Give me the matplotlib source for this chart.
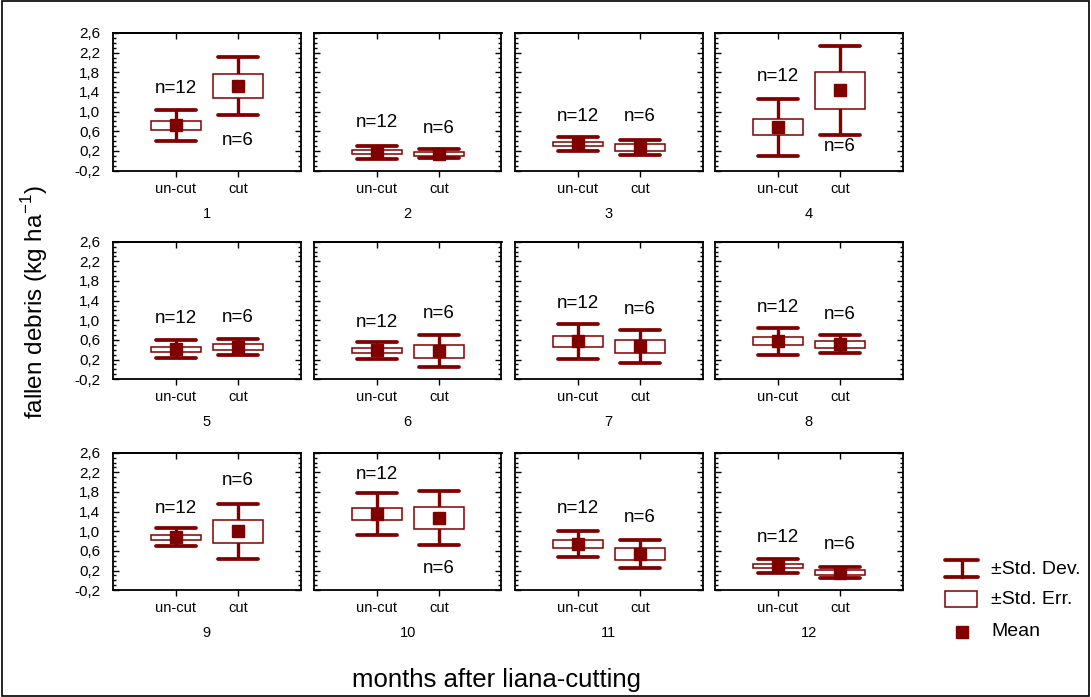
import numpy as np
import matplotlib
matplotlib.use("Agg")
import matplotlib.pyplot as plt
import matplotlib.ticker as ticker
from matplotlib.patches import Rectangle
from matplotlib.lines import Line2D

plt.rcParams['font.family'] = ['Liberation Sans', 'DejaVu Sans']

# ---------------- data ----------------
months = ['1', '2', '3', '4', '5', '6', '7', '8', '9', '10', '11', '12']
groups = ['un-cut', 'cut']
n_obs = [12, 6]

mean_uncut = [0.72, 0.17, 0.34, 0.68, 0.41, 0.39, 0.57, 0.57, 0.88, 1.35, 0.74, 0.30]
sd_uncut = [0.32, 0.13, 0.14, 0.575, 0.18, 0.17, 0.36, 0.27, 0.18, 0.42, 0.26, 0.145]
se_uncut = [0.09, 0.04, 0.04, 0.165, 0.05, 0.05, 0.105, 0.08, 0.05, 0.12, 0.075, 0.04]

mean_cut = [1.52, 0.14, 0.27, 1.43, 0.45, 0.37, 0.47, 0.51, 1.00, 1.27, 0.54, 0.16]
sd_cut = [0.59, 0.09, 0.155, 0.91, 0.16, 0.33, 0.335, 0.18, 0.56, 0.545, 0.29, 0.12]
se_cut = [0.24, 0.04, 0.065, 0.37, 0.065, 0.135, 0.135, 0.07, 0.23, 0.22, 0.12, 0.05]

# height (in data units) of the "n=" labels
lab_uncut = [1.47, 0.77, 0.89, 1.71, 1.03, 0.96, 1.34, 1.27, 1.46, 2.16, 1.46, 0.88]
lab_cut = [0.41, 0.66, 0.89, 0.29, 1.05, 1.14, 1.22, 1.12, 2.04, 0.24, 1.29, 0.73]

# ---------------- layout ----------------
W, H = 1091, 697
col = '#800000'
fig = plt.figure(figsize=(W / 100, H / 100), dpi=100)

lefts = [113, 314, 515, 715]
tops = [33, 241.7, 452.7]
aw, ah = 187.5, 137.5

def comma(v, pos):
    return ('%.1f' % v).replace('.', ',')

def draw_group(ax, x, m, sd, se):
    #Desviacion estandar
    ax.plot([x, x], [m - sd, m + sd], color=col, lw=2.4, solid_capstyle='butt', zorder=2)
    for yy in (m - sd, m + sd):
        ax.plot([x - 0.32, x + 0.32], [yy, yy], color=col, lw=2.7,
                solid_capstyle='round', zorder=2)
    #Error estandar
    ax.add_patch(Rectangle((x - 0.4, m - se), 0.8, 2 * se, facecolor='white',
                           edgecolor=col, lw=1.1, zorder=3))
    #Media
    ax.plot([x], [m], marker='s', ms=9, color=col, mec=col, zorder=4)

for i in range(12):
    r, c = divmod(i, 4)
    ax = fig.add_axes([lefts[c] / W, 1 - (tops[r] + ah) / H, aw / W, ah / H])
    means = [mean_uncut[i], mean_cut[i]]
    sds = [sd_uncut[i], sd_cut[i]]
    ses = [se_uncut[i], se_cut[i]]
    labs = [lab_uncut[i], lab_cut[i]]
    for k in range(2):
        draw_group(ax, k, means[k], sds[k], ses[k])
        ax.text(k, labs[k], 'n=%d' % n_obs[k], ha='center', va='center', fontsize=13.5)
    ax.set_xlim(-1, 2)
    ax.set_ylim(-0.2, 2.6)
    ax.set_xticks([0, 1])
    ax.set_xticklabels(groups, fontsize=10.5)
    ax.set_xlabel(months[i], fontsize=10.5, labelpad=8)
    ax.yaxis.set_minor_locator(ticker.MultipleLocator(0.1))
    ax.set_yticks(np.arange(-0.2, 2.61, 0.4))
    ax.yaxis.set_major_formatter(ticker.FuncFormatter(comma))
    ax.tick_params(axis='y', which='both', direction='in', left=True, right=True,
                   labelsize=11, width=1, pad=9)
    ax.tick_params(axis='y', which='major', length=4)
    ax.tick_params(axis='y', which='minor', length=2.5)
    ax.tick_params(axis='x', direction='out', length=4, width=1, pad=4)
    if c != 0:
        ax.set_yticklabels([])
    sec = ax.secondary_xaxis('top')
    sec.set_xticks([0, 1])
    sec.set_xticklabels([])
    sec.tick_params(direction='in', length=4, width=1)
    for s in ax.spines.values():
        s.set_linewidth(1.3)
    sec.spines['top'].set_linewidth(1.3)

# etiquetas de ejes
fig.text(35 / W, 1 - 302 / H, 'fallen debris (kg ha$^{\\mathregular{-1}}$)',
         rotation=90, ha='center', va='center', fontsize=17.5)
fig.text(497 / W, 1 - 680 / H, 'months after liana-cutting',
         ha='center', va='center', fontsize=18.5)

# leyenda
def px(x, y):
    return x / W, 1 - y / H

for yy in (560, 577):
    xs, ys = zip(px(945, yy), px(978, yy))
    fig.add_artist(Line2D(xs, ys, color=col, lw=2.7, solid_capstyle='round'))
xs, ys = zip(px(961.5, 560), px(961.5, 577))
fig.add_artist(Line2D(xs, ys, color=col, lw=2.4))
x0, y0 = px(945, 607)
fig.add_artist(Rectangle((x0, y0), 32 / W, 16 / H, transform=fig.transFigure,
                         facecolor='white', edgecolor=col, lw=1.1))
xs, ys = px(961.5, 632)
fig.add_artist(Line2D([xs], [ys], marker='s', ms=9, color=col))
for txt, yy in [('\u00b1Std. Dev.', 569), ('\u00b1Std. Err.', 599), ('Mean', 631)]:
    tx, ty = px(991, yy)
    fig.text(tx, ty, txt, ha='left', va='center', fontsize=14)

# marco exterior
fig.add_artist(Rectangle((0.0015, 0.002), 0.997, 0.996, transform=fig.transFigure,
                         fill=False, edgecolor='black', lw=1.2))

fig.savefig('out.png', dpi=100)
